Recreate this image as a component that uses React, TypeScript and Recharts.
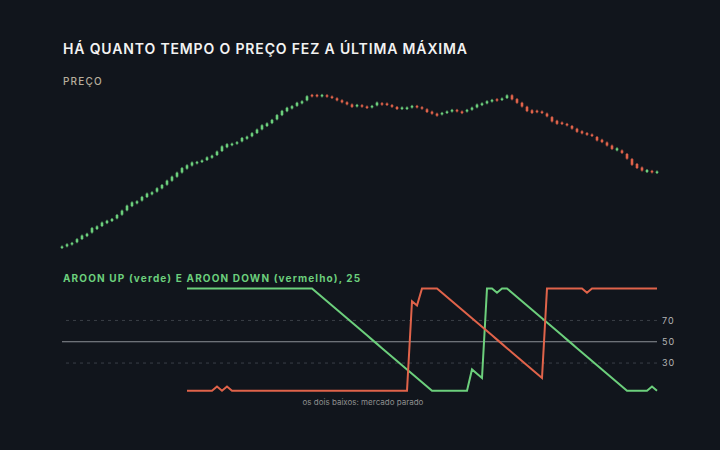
import { ComposedChart, Bar, Line, XAxis, YAxis, ReferenceLine } from "recharts";

const opens = [
  52.0, 53.7, 55.5, 57.8, 61.0, 63.9, 67.5, 71.0, 74.0, 76.9,
  79.0, 81.7, 85.3, 89.7, 93.9, 96.7, 99.5, 103.0, 105.7, 108.4,
  111.7, 115.3, 119.3, 123.3, 127.5, 131.4, 134.5, 136.6, 138.0, 140.0,
  142.3, 145.0, 149.0, 152.8, 154.8, 156.3, 158.7, 161.3, 163.8, 167.0,
  170.7, 174.0, 176.9, 180.7, 184.9, 188.8, 191.6, 194.2, 196.7, 199.7,
  205.1, 205.1, 203.6, 204.8, 203.5, 201.7, 199.7, 197.7, 195.5, 193.6,
  194.8, 193.5, 192.6, 194.7, 196.8, 196.5, 194.9, 193.0, 191.0, 191.0,
  192.5, 194.1, 192.8, 190.7, 188.3, 186.3, 185.6, 187.0, 188.5, 190.1,
  188.5, 188.5, 190.3, 192.7, 194.9, 196.7, 198.5, 200.8, 200.0, 202.0,
  204.7, 200.9, 197.2, 193.2, 189.7, 189.3, 188.5, 186.4, 182.9, 179.2,
  177.5, 176.1, 174.0, 171.2, 168.7, 166.9, 165.5, 163.0, 160.2, 157.5,
  154.4, 149.7, 149.5, 146.0, 140.9, 136.0, 132.5, 128.0, 129.1, 127.0,
];

const closes = [
  53.5, 55.7, 57.1, 60.8, 64.4, 66.2, 71.9, 73.6, 77.4, 79.2,
  81.0, 85.0, 89.3, 94.3, 97.6, 98.7, 103.1, 106.4, 107.7, 111.7,
  115.0, 119.3, 123.3, 127.3, 131.9, 134.7, 137.5, 138.1, 139.5, 142.6,
  144.3, 148.4, 153.6, 155.8, 156.3, 157.8, 162.0, 163.3, 166.8, 170.4,
  174.7, 176.6, 180.1, 184.9, 189.1, 192.2, 193.8, 197.2, 198.7, 203.7,
  203.6, 203.6, 205.1, 203.3, 202.0, 199.7, 197.7, 195.7, 193.1, 195.1,
  193.3, 192.0, 194.1, 197.4, 195.3, 195.0, 193.2, 191.0, 192.5, 192.5,
  194.1, 192.6, 191.3, 188.0, 186.3, 184.3, 187.1, 188.5, 190.1, 188.6,
  186.9, 190.1, 192.3, 195.4, 196.6, 198.7, 200.1, 199.3, 201.5, 204.6,
  200.7, 197.2, 193.5, 188.9, 187.0, 187.8, 187.0, 183.7, 178.6, 176.2,
  176.0, 174.6, 171.4, 168.2, 166.7, 165.2, 164.0, 159.6, 157.9, 154.5,
  151.1, 151.7, 147.1, 141.4, 135.2, 132.0, 129.5, 130.0, 127.6, 128.5,
];

const highs = [
  54.5, 56.7, 58.1, 61.8, 65.4, 67.2, 72.9, 74.6, 78.4, 80.2,
  82.0, 86.0, 90.3, 95.3, 98.6, 99.7, 104.1, 107.4, 108.7, 112.7,
  116.0, 120.3, 124.3, 128.3, 132.9, 135.7, 138.5, 139.1, 140.5, 143.6,
  145.3, 149.4, 154.6, 156.8, 157.3, 158.8, 163.0, 164.3, 167.8, 171.4,
  175.7, 177.6, 181.1, 185.9, 190.1, 193.2, 194.8, 198.2, 199.7, 204.7,
  206.1, 206.1, 206.1, 205.8, 204.5, 202.7, 200.7, 198.7, 196.5, 196.1,
  195.8, 194.5, 195.1, 198.4, 197.8, 197.5, 195.9, 194.0, 193.5, 193.5,
  195.1, 195.1, 193.8, 191.7, 189.3, 187.3, 188.1, 189.5, 191.1, 191.1,
  189.5, 191.1, 193.3, 196.4, 197.6, 199.7, 201.1, 201.8, 202.5, 205.6,
  205.7, 201.9, 198.2, 194.2, 190.7, 190.3, 189.5, 187.4, 183.9, 180.2,
  178.5, 177.1, 175.0, 172.2, 169.7, 167.9, 166.5, 164.0, 161.2, 158.5,
  155.4, 152.7, 150.5, 147.0, 141.9, 137.0, 133.5, 131.0, 130.1, 129.5,
];

const lows = [
  51.0, 52.7, 54.5, 56.8, 60.0, 62.9, 66.5, 70.0, 73.0, 75.9,
  78.0, 80.7, 84.3, 88.7, 92.9, 95.7, 98.5, 102.0, 104.7, 107.4,
  110.7, 114.3, 118.3, 122.3, 126.5, 130.4, 133.5, 135.6, 137.0, 139.0,
  141.3, 144.0, 148.0, 151.8, 153.8, 155.3, 157.7, 160.3, 162.8, 166.0,
  169.7, 173.0, 175.9, 179.7, 183.9, 187.8, 190.6, 193.2, 195.7, 198.7,
  202.6, 202.6, 202.6, 202.3, 201.0, 198.7, 196.7, 194.7, 192.1, 192.6,
  192.3, 191.0, 191.6, 193.7, 194.3, 194.0, 192.2, 190.0, 190.0, 190.0,
  191.5, 191.6, 190.3, 187.0, 185.3, 183.3, 184.6, 186.0, 187.5, 187.6,
  185.9, 187.5, 189.3, 191.7, 193.9, 195.7, 197.5, 198.3, 199.0, 201.0,
  199.7, 196.2, 192.5, 187.9, 186.0, 186.8, 186.0, 182.7, 177.6, 175.2,
  175.0, 173.6, 170.4, 167.2, 165.7, 164.2, 163.0, 158.6, 156.9, 153.5,
  150.1, 148.7, 146.1, 140.4, 134.2, 131.0, 128.5, 127.0, 126.6, 126.0,
];

// aroon begins once 25 bars are available
const aroonStart = 25;

const aroonUp = [
  100, 100, 100, 100, 100, 100, 100, 100, 100, 100,
  100, 100, 100, 100, 100, 100, 100, 100, 100, 100,
  100, 100, 100, 100, 100, 100, 96, 92, 88, 84,
  80, 76, 72, 68, 64, 60, 56, 52, 48, 44,
  40, 36, 32, 28, 24, 20, 16, 12, 8, 4,
  4, 4, 4, 4, 4, 4, 4, 24, 20, 16,
  100, 100, 96, 100, 100, 96, 92, 88, 84, 80,
  76, 72, 68, 64, 60, 56, 52, 48, 44, 40,
  36, 32, 28, 24, 20, 16, 12, 8, 4, 4,
  4, 4, 4, 8, 4,
];

const aroonDown = [
  4, 4, 4, 4, 4, 4, 8, 4, 8, 4,
  4, 4, 4, 4, 4, 4, 4, 4, 4, 4,
  4, 4, 4, 4, 4, 4, 4, 4, 4, 4,
  4, 4, 4, 4, 4, 4, 4, 4, 4, 4,
  4, 4, 4, 4, 4, 88, 84, 100, 100, 100,
  100, 96, 92, 88, 84, 80, 76, 72, 68, 64,
  60, 56, 52, 48, 44, 40, 36, 32, 28, 24,
  20, 16, 100, 100, 100, 100, 100, 100, 100, 100,
  96, 100, 100, 100, 100, 100, 100, 100, 100, 100,
  100, 100, 100, 100, 100,
];

const levelTicks = [30, 50, 70];

const BG = "#11151c";
const UP = "#6ccf7c";
const DOWN = "#e0634a";
const FONT = "Inter, 'DejaVu Sans', sans-serif";

const candles = opens.map((o, i) => ({
  i,
  open: o,
  high: highs[i],
  low: lows[i],
  close: closes[i],
}));

const aroon = aroonUp.map((u, k) => ({
  i: aroonStart + k,
  up: u,
  down: aroonDown[k],
}));

const Candle = (props: any) => {
  const { x, y, width, height, payload } = props;
  if (!payload) return null;
  const { open, close, high, low } = payload;
  const top = Math.min(y, y + height);
  const h = Math.abs(height);
  const toY = (v: number) => top + ((high - v) / (high - low)) * h;
  const cx = x + width / 2;
  const color = close >= open ? UP : DOWN;
  const bodyTop = toY(Math.max(open, close));
  const bodyH = Math.max(1, toY(Math.min(open, close)) - bodyTop);
  return (
    <g>
      <line x1={cx} x2={cx} y1={top} y2={top + h} stroke={color} strokeWidth={1} />
      <rect x={cx - 1.3} y={bodyTop} width={2.6} height={bodyH} fill={color} />
    </g>
  );
};

const App = () => {
  return (
    <div
      style={{
        position: "absolute",
        left: 0,
        top: 0,
        width: 720,
        height: 450,
        background: BG,
        fontFamily: FONT,
        overflow: "hidden",
      }}
    >
      <div
        style={{
          position: "absolute",
          left: 63,
          top: 42,
          fontSize: 14,
          lineHeight: "14px",
          fontWeight: 600,
          letterSpacing: 0.85,
          color: "#f2f2f2",
          whiteSpace: "nowrap",
        }}
      >
        HÁ QUANTO TEMPO O PREÇO FEZ A ÚLTIMA MÁXIMA
      </div>
      <div
        style={{
          position: "absolute",
          left: 63,
          top: 75.6,
          fontSize: 10,
          lineHeight: "10px",
          fontWeight: 500,
          letterSpacing: 1.2,
          color: "#b8ae9c",
        }}
      >
        PREÇO
      </div>
      <div
        style={{
          position: "absolute",
          left: 63,
          top: 273.3,
          fontSize: 10,
          lineHeight: "10px",
          fontWeight: 700,
          letterSpacing: 1.15,
          color: UP,
          whiteSpace: "nowrap",
        }}
      >
        AROON UP (verde) E AROON DOWN (vermelho), 25
      </div>
      <div
        style={{
          position: "absolute",
          left: 300,
          width: 126,
          top: 398,
          fontSize: 8,
          lineHeight: "8px",
          color: "#8e8e8e",
          textAlign: "center",
          whiteSpace: "nowrap",
        }}
      >
        os dois baixos: mercado parado
      </div>

      <div style={{ position: "absolute", left: 0, top: 0 }}>
        <ComposedChart
          width={720}
          height={450}
          data={candles}
          margin={{ top: 80, right: 60.5, bottom: 190, left: 59.5 }}
        >
          <XAxis dataKey="i" type="category" hide />
          <YAxis type="number" domain={[40, 220]} allowDataOverflow hide />
          <Bar
            dataKey={(d: any) => [d.low, d.high]}
            barSize={3}
            shape={Candle}
            isAnimationActive={false}
          />
        </ComposedChart>
      </div>

      <div style={{ position: "absolute", left: 0, top: 0 }}>
        <ComposedChart
          width={720}
          height={450}
          data={aroon}
          margin={{ top: 288.5, right: 23, bottom: 55, left: 62 }}
        >
          <XAxis dataKey="i" type="number" domain={[0, 119]} hide />
          <YAxis
            orientation="right"
            type="number"
            domain={[0, 100]}
            ticks={levelTicks}
            width={40}
            tickSize={0}
            tickMargin={5}
            axisLine={false}
            tickLine={false}
            tick={{ fill: "#b4b4b4", fontSize: 9, letterSpacing: 1, fontFamily: FONT }}
          />
          <ReferenceLine y={70} stroke="#3a3f47" strokeDasharray="3 4" />
          <ReferenceLine y={30} stroke="#3a3f47" strokeDasharray="3 4" />
          <ReferenceLine y={50} stroke="#8d9096" strokeWidth={1.2} />
          <Line
            dataKey="up"
            stroke={UP}
            strokeWidth={2}
            dot={false}
            isAnimationActive={false}
          />
          <Line
            dataKey="down"
            stroke={DOWN}
            strokeWidth={2}
            dot={false}
            isAnimationActive={false}
          />
        </ComposedChart>
      </div>
    </div>
  );
};

export default App;
